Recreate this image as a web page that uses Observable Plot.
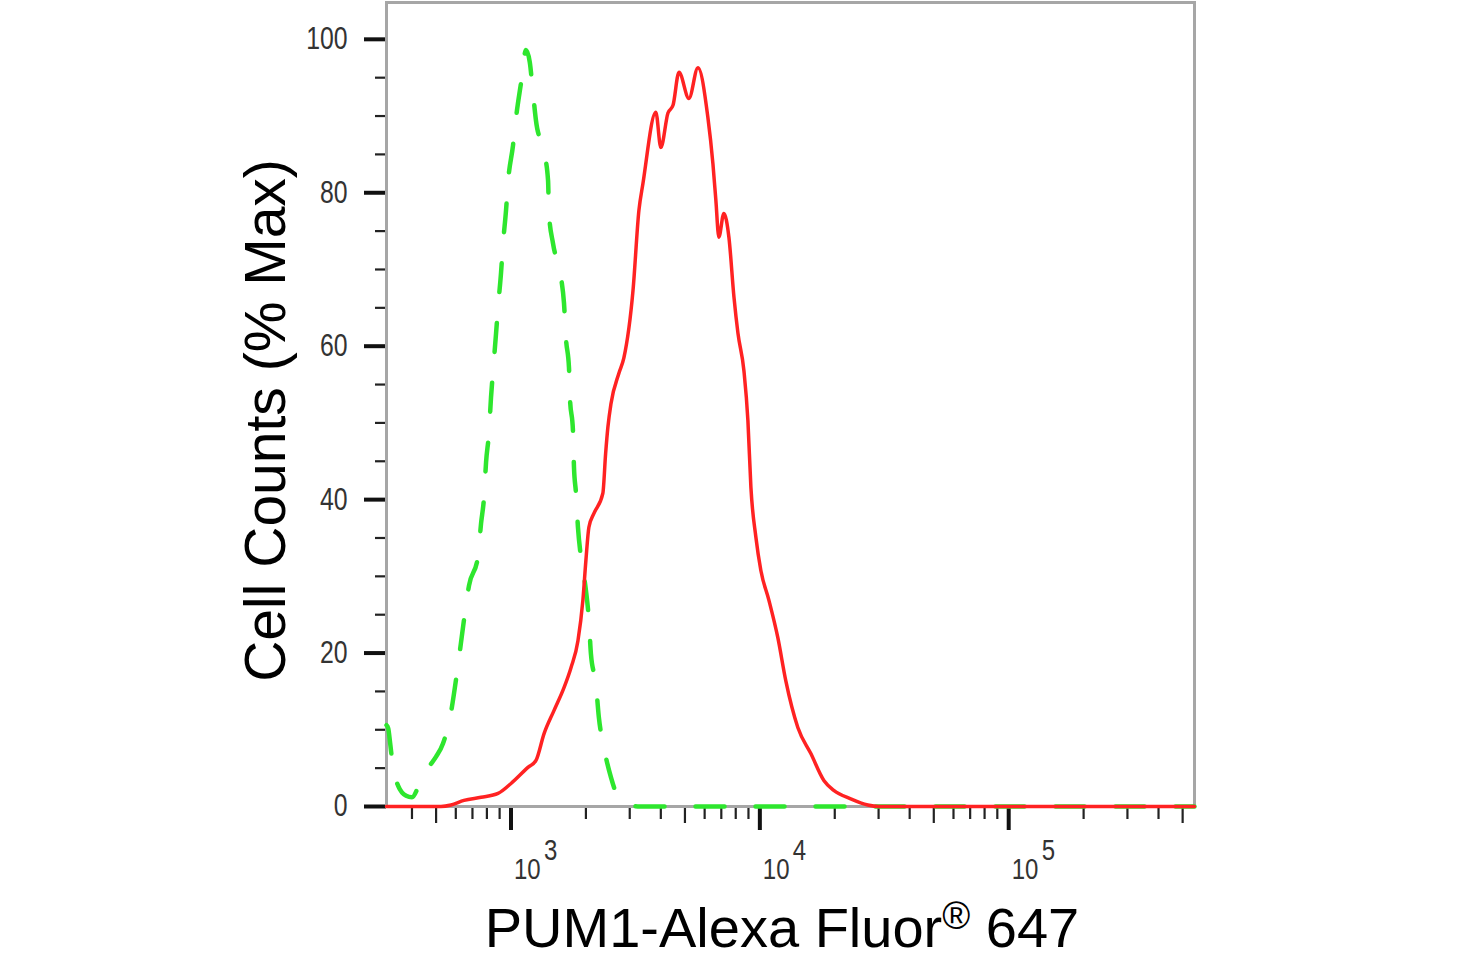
<!DOCTYPE html>
<html>
<head>
<meta charset="utf-8">
<script src="https://cdn.jsdelivr.net/npm/d3@7"></script>
<script src="https://cdn.jsdelivr.net/npm/@observablehq/plot@0.6"></script>
<style>
  html, body { margin: 0; padding: 0; background: #fff; }
  body { width: 1482px; height: 960px; overflow: hidden; font-family: "Liberation Sans", Arial, sans-serif; }
  #xlabel { height: 56px; line-height: 50px; font-size: 56px; text-align: center; padding-left: 82px; color: #000; white-space: nowrap; }
  #xlabel .reg { font-size: 38px; position: relative; top: -18px; }
</style>
</head>
<body>
<div id="chart"></div>
<div id="xlabel">PUM1-Alexa Fluor<span class="reg">®</span> 647</div>
<script>
// ---- data ----
const greenX = [316, 321, 327, 333, 339, 352, 379, 400, 430, 464, 500, 533, 574, 610, 647, 678, 736, 758, 779, 794, 816, 831, 847, 871, 887, 912, 929, 955, 973, 1019, 1047, 1097, 1149, 1190, 1225, 1260, 1358, 1409, 1421, 1475, 1588, 1633, 1663, 1710, 1725, 1774, 1791, 1825, 1858, 1910, 2000, 2056, 2095, 2193, 2255, 2361, 2522, 2716, 2953, 3300, 558000];
const greenY = [10.6, 10.2, 8.2, 6.0, 4.3, 2.7, 1.4, 1.2, 3.0, 5.0, 6.5, 8.2, 12.3, 18.0, 24.3, 28.8, 32.5, 36.9, 40.3, 44.9, 48.8, 53.3, 56.8, 61.7, 65.1, 69.6, 73.4, 77.7, 81.4, 86.2, 89.7, 94.3, 98.6, 97.0, 93.1, 89.4, 85.3, 81.6, 77.3, 73.4, 69.0, 65.6, 61.0, 57.2, 53.3, 49.0, 44.2, 40.8, 36.4, 32.5, 28.2, 24.3, 19.9, 16.0, 11.6, 7.7, 3.8, 1.0, 0.2, 0, 0];

const redX = [316, 523, 574, 647, 758, 887, 1000, 1170, 1260, 1358, 1488, 1633, 1742, 1858, 1945, 2000, 2056, 2154, 2339, 2400, 2452, 2522, 2716, 2843, 3093, 3266, 3390, 3820, 4000, 4273, 4477, 4731, 5188, 5639, 6183, 6477, 6657, 6843, 7166, 7510, 7870, 8165, 8630, 8954, 9206, 9640, 10090, 10870, 11810, 12710, 14210, 16030, 18080, 19820, 23180, 27150, 30000, 558000];
const redY = [0, 0, 0.2, 0.8, 1.2, 1.7, 3.0, 5.1, 6.0, 9.5, 12.5, 15.5, 18.1, 21.6, 26.9, 32.1, 36.4, 38.2, 40.8, 46.0, 49.5, 52.5, 56.5, 58.5, 67.3, 77.7, 81.2, 90.5, 85.9, 90.4, 91.4, 95.7, 92.3, 96.3, 89.8, 83.8, 79.0, 74.2, 77.3, 74.2, 66.4, 61.7, 56.8, 50.3, 41.6, 35.1, 30.8, 26.9, 22.0, 16.4, 10.3, 6.9, 3.4, 2.1, 1.0, 0.2, 0, 0];

const xMajorTicks = [1e3, 1e4, 1e5];
const xExponents = ["3", "4", "5"];
const xHalfTicks = [500, 5000, 50000, 500000];
const xMinorTicks = [400, 600, 700, 800, 900, 2000, 3000, 4000, 6000, 7000, 8000, 9000, 20000, 30000, 40000, 60000, 70000, 80000, 90000, 200000, 300000, 400000];
const yMajorTicks = [0, 20, 40, 60, 80, 100];
const yMinorTicks = [5, 10, 15, 25, 30, 35, 45, 50, 55, 65, 70, 75, 85, 90, 95];
const yTitle = "Cell Counts (% Max)";

const green = greenX.map((x, i) => ({x, y: greenY[i]}));
const red = redX.map((x, i) => ({x, y: redY[i]}));

const tickFont = "'Liberation Sans', Arial, sans-serif";

const chart = Plot.plot({
  width: 1482,
  height: 903,
  marginLeft: 386,
  marginRight: 288,
  marginTop: 2,
  marginBottom: 97,
  x: {type: "log", domain: [316, 558000]},
  y: {domain: [0, 104.8]},
  style: {fontFamily: tickFont, fontSize: "30px", background: "#fff", overflow: "visible"},
  marks: [
    Plot.axisX({ticks: xMinorTicks, tickSize: 13, strokeWidth: 2.2, stroke: "#222", tickFormat: () => "", label: null}),
    Plot.axisX({ticks: xHalfTicks, tickSize: 17, strokeWidth: 2.2, stroke: "#222", tickFormat: () => "", label: null}),
    Plot.axisX({ticks: xMajorTicks, tickSize: 24, strokeWidth: 4, stroke: "#111", tickFormat: () => "", label: null}),
    Plot.axisY({ticks: yMinorTicks, tickSize: 11, strokeWidth: 2.2, stroke: "#222", tickFormat: () => "", label: null}),
    Plot.axisY({ticks: yMajorTicks, tickSize: 22, tickPadding: 17, strokeWidth: 4, stroke: "#111", fill: "#333", fontSize: 31, label: null}),
    Plot.frame({stroke: "#a6a6a6", strokeWidth: 3}),
    Plot.text(xMajorTicks, {x: d => d, text: () => "10", frameAnchor: "bottom", textAnchor: "start", lineAnchor: "top", dx: 3, dy: 51, fontSize: 30, fill: "#333"}),
    Plot.text(xMajorTicks, {x: d => d, text: (d, i) => xExponents[i], frameAnchor: "bottom", textAnchor: "start", lineAnchor: "top", dx: 33, dy: 32, fontSize: 30, fill: "#333"}),
    Plot.line(green, {x: "x", y: "y", stroke: "#2ee62e", strokeWidth: 4.5, strokeDasharray: "29,31", curve: "monotone-x"}),
    Plot.line(red, {x: "x", y: "y", stroke: "#ff2222", strokeWidth: 3.5, curve: "monotone-x"}),
    Plot.text([yTitle], {frameAnchor: "left", rotate: -90, dx: -120, dy: 16, textAnchor: "middle", lineAnchor: "middle", fontSize: 57, fontFamily: "'Liberation Sans', Arial, sans-serif", fill: "#000"})
  ]
});
document.getElementById("chart").appendChild(chart);

// narrow the numeric tick-label glyphs horizontally, as in the reference
d3.select(chart).selectAll("text").each(function() {
  if (!/^\d+$/.test(this.textContent.trim())) return;
  const k = 0.8;
  const t = this.getAttribute("transform");
  if (t) {
    this.setAttribute("transform", t + ` scale(${k},1)`);
  } else {
    const x = +(this.getAttribute("x") || 0), y = +(this.getAttribute("y") || 0);
    this.removeAttribute("x");
    this.removeAttribute("y");
    this.setAttribute("transform", `translate(${x},${y}) scale(${k},1)`);
  }
});
</script>
</body>
</html>
